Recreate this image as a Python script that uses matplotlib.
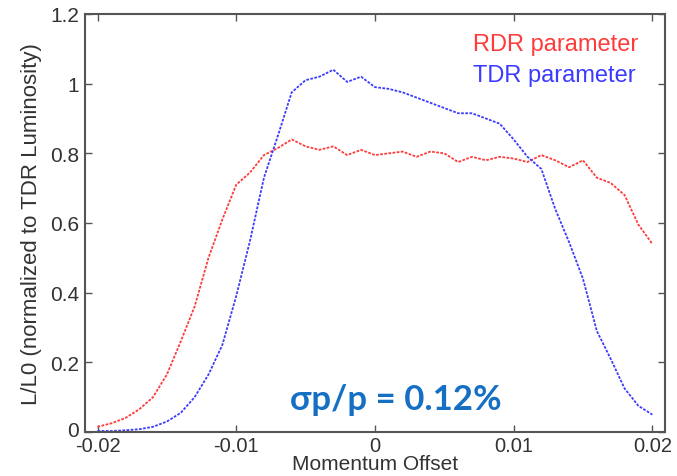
import matplotlib
matplotlib.use('Agg')
import matplotlib.pyplot as plt
import matplotlib.transforms as mtrans
import numpy as np

plt.rcParams['font.family'] = ['Liberation Sans', 'DejaVu Sans']

# momentum offset grid and luminosity values
offset = np.round(np.arange(-0.020, 0.0205, 0.001), 3)
rdr = [0.015, 0.025, 0.04, 0.065, 0.10, 0.165, 0.26, 0.36, 0.50, 0.61,
       0.71, 0.745, 0.795, 0.815, 0.84, 0.82, 0.81, 0.82, 0.795, 0.81,
       0.795, 0.80, 0.805, 0.79, 0.805, 0.80, 0.775, 0.79, 0.78, 0.79,
       0.785, 0.775, 0.795, 0.78, 0.76, 0.78, 0.73, 0.715, 0.68, 0.595,
       0.54]
tdr = [0.003, 0.003, 0.005, 0.008, 0.015, 0.03, 0.055, 0.10, 0.165, 0.25,
       0.39, 0.55, 0.73, 0.85, 0.975, 1.01, 1.02, 1.04, 1.005, 1.02,
       0.99, 0.985, 0.975, 0.96, 0.945, 0.93, 0.915, 0.915, 0.90, 0.885,
       0.84, 0.79, 0.755, 0.64, 0.545, 0.44, 0.29, 0.21, 0.125, 0.075,
       0.05]

x_ticks = [-0.02, -0.01, 0, 0.01, 0.02]
x_labels = ['-0.02', '-0.01', '0', '0.01', '0.02']
y_ticks = [0, 0.2, 0.4, 0.6, 0.8, 1.0, 1.2]
y_labels = ['0', '0.2', '0.4', '0.6', '0.8', '1', '1.2']

fig = plt.figure(figsize=(6.77, 4.77), dpi=100)
ax = fig.add_axes([0.1256, 0.0922, 0.8564, 0.8764])

ax.plot(offset, rdr, color='#ff3b3b', lw=1.3, ls=(0, (1.5, 0.8)), label='RDR parameter')
ax.plot(offset, tdr, color='#3b3bff', lw=1.3, ls=(0, (1.5, 0.8)), label='TDR parameter')

ax.set_xlim(-0.0209, 0.0209)
ax.set_ylim(0, 1.2)
ax.set_xticks(x_ticks)
ax.set_xticklabels(x_labels)
ax.set_yticks(y_ticks)
ax.set_yticklabels(y_labels)
ax.tick_params(direction='in', top=True, right=True, length=5, width=1,
               color='#555555', labelsize=15, labelcolor='#333333', pad=4)
ax.tick_params(axis='x', pad=3, labelsize=14.5)
for s in ax.spines.values():
    s.set_color('#555555')
    s.set_linewidth(1.5)

# nudge the "0" y label up a little so it doesn't sit on "-0.02"
zero_lbl = ax.get_yticklabels()[0]
zero_lbl.set_transform(zero_lbl.get_transform() +
                       mtrans.ScaledTranslation(-0.01, 0.04, fig.dpi_scale_trans))

ax.set_xlabel('Momentum Offset', fontsize=15, color='#333333', labelpad=-1)
ax.set_ylabel('L/L0 (normalized to TDR Luminosity)', fontsize=16, color='#333333', labelpad=6)

leg = ax.legend(loc='upper right', handlelength=0, handletextpad=0, frameon=False,
                labelcolor='linecolor', fontsize=17, borderaxespad=0.4, labelspacing=0.4,
                bbox_to_anchor=(0.987, 1.0))
for h in leg.legend_handles:
    h.set_visible(False)

ax.text(0.0015, 0.095, 'σp/p = 0.12%', color='#1570c4', fontsize=25, fontweight='bold',
        family=['Lato', 'DejaVu Sans'], ha='center', va='center')

fig.savefig('out.png', dpi=100)
